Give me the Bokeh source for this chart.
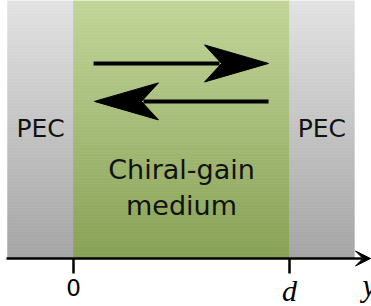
import numpy as np
from bokeh.plotting import figure
from bokeh.models import (Range1d, FixedTicker, Arrow, VeeHead, LinearAxis,
                          GlobalInlineStyleSheet)
from bokeh.core.properties import value
from bokeh.embed import file_html
from bokeh.resources import INLINE

# ---------------- data ----------------
region_left = [-0.305, 0.0, 1.0]
region_right = [0.0, 1.0, 1.30]
region_kind = ["pec", "medium", "pec"]
region_lines = [["PEC"], ["Chiral-gain", "medium"], ["PEC"]]

tick_values = [0.0, 1.0]
tick_labels = ["0", "d"]
axis_start = -0.31
axis_end = 1.375
axis_name = "y"

wave_start = [0.093, 0.903]
wave_end = [0.903, 0.097]
wave_level = [0.756, 0.609]

# ---------------- style ----------------
PX_X = 216.0   # pixels per unit d
PX_Y = 258.0   # pixels per unit height
W, H = 371, 306
ORIGIN_PX = 73.0
AXIS_PX = 258.0
SHIFT = 0.36   # text box correction, in em

colors_top = {"pec": (226, 226, 226), "medium": (194, 213, 153)}
colors_bot = {"pec": (164, 164, 164), "medium": (134, 160, 84)}


def base_y(px_baseline, font_px):
    """data y of a text anchor whose ink baseline sits at the given pixel row"""
    return (AXIS_PX - (px_baseline - SHIFT * font_px)) / PX_Y


p = figure(width=W, height=H,
           x_range=Range1d(-ORIGIN_PX / PX_X, (W - ORIGIN_PX) / PX_X),
           y_range=Range1d(-(H - AXIS_PX) / PX_Y, 1.0),
           output_backend="svg", toolbar_location=None,
           min_border=0, outline_line_color=None)
p.grid.visible = False
p.yaxis.visible = False
p.xaxis.visible = False
p.background_fill_color = "white"
p.border_fill_color = "white"
p.stylesheets = [GlobalInlineStyleSheet(css="html, body { margin: 0 !important; padding: 0; overflow: hidden; }")]

# gradient panels
N = 86
for l, r, kind in zip(region_left, region_right, region_kind):
    lefts, rights, bottoms, tops, cols = [], [], [], [], []
    ct = np.array(colors_top[kind], float)
    cb = np.array(colors_bot[kind], float)
    for i in range(N):
        b = i / N
        t = (i + 1) / N
        frac = 1.0 - (b + t) / 2.0
        c = ct * (1 - frac) + cb * frac
        cols.append("#%02x%02x%02x" % tuple(int(round(v)) for v in c))
        lefts.append(l); rights.append(r); bottoms.append(b); tops.append(t)
    p.quad(left=lefts, right=rights, bottom=bottoms, top=tops,
           fill_color=cols, line_color=cols, line_width=0.6)

# region labels
for l, r, kind, lines in zip(region_left, region_right, region_kind, region_lines):
    cx = (l + r) / 2.0
    if kind == "pec":
        p.text(x=[cx], y=[base_y(137.0, 25)], text=lines, text_font=value("DejaVu Sans"),
               text_font_size="25px", text_align="center", text_baseline="alphabetic",
               text_color="#111111")
    else:
        ys = [base_y(179.0, 27), base_y(215.0, 27)]
        p.text(x=[cx] * len(lines), y=ys[:len(lines)], text=lines,
               text_font=value("DejaVu Sans"), text_font_size="27px",
               text_align="center", text_baseline="alphabetic", text_color="#111111")

# wave arrows
HEAD_LEN = 64.0 / PX_X
NOTCH = 47.0 / PX_X
HALF_W = 18.5 / PX_Y
for xs, xe, yl in zip(wave_start, wave_end, wave_level):
    dirn = 1.0 if xe > xs else -1.0
    p.segment(x0=[xs], y0=[yl], x1=[xe - dirn * (NOTCH + 2.0 / PX_X)], y1=[yl],
              line_color="black", line_width=4, line_cap="butt")
    p.patch(x=[xe, xe - dirn * HEAD_LEN, xe - dirn * NOTCH, xe - dirn * HEAD_LEN],
            y=[yl, yl + HALF_W, yl, yl - HALF_W],
            fill_color="black", line_color="black", line_width=1)

# axes: one per tick so each label can carry its own font
fonts = [("DejaVu Sans", "normal", "23px", 5), ("Liberation Serif", "italic", "30px", 0)]
for tv, tl, (fnt, sty, size, standoff) in zip(tick_values, tick_labels, fonts):
    ax = LinearAxis(fixed_location=0, ticker=FixedTicker(ticks=[tv]),
                    major_label_overrides={tv: tl})
    ax.major_tick_in = 0
    ax.major_tick_out = 15
    ax.major_tick_line_width = 2.5
    ax.major_tick_line_color = "black"
    ax.minor_tick_line_color = None
    ax.axis_line_color = None
    ax.major_label_standoff = standoff
    ax.major_label_text_font = fnt
    ax.major_label_text_font_style = sty
    ax.major_label_text_font_size = size
    ax.major_label_text_color = "black"
    p.add_layout(ax, "below")

p.add_layout(Arrow(end=VeeHead(size=15, fill_color="black", line_color="black"),
                   x_start=axis_start, y_start=0, x_end=axis_end, y_end=0,
                   line_color="black", line_width=2.5))

p.text(x=[axis_end - 8.0 / PX_X], y=[base_y(296.0, 31)], text=[axis_name],
       text_font=value("Liberation Serif"), text_font_style="italic",
       text_font_size="31px", text_align="left", text_baseline="alphabetic",
       text_color="black")

open("out.html", "w").write(file_html(p, INLINE))
